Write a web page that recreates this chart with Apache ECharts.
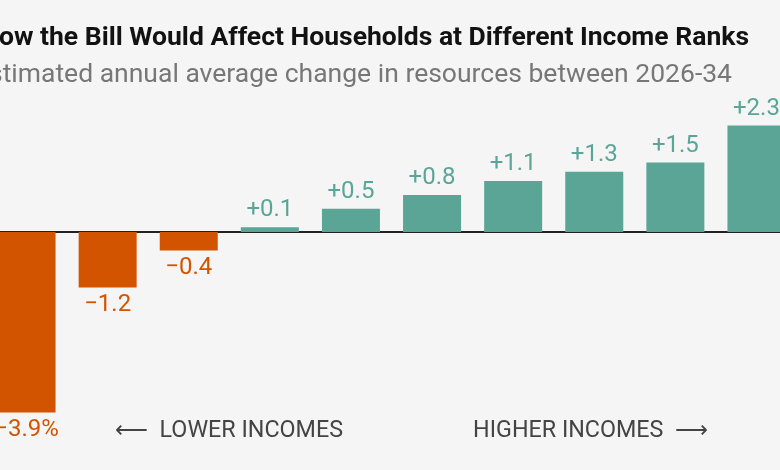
<!DOCTYPE html>
<html><head><meta charset="utf-8">
<script src="https://cdn.jsdelivr.net/npm/echarts@6/dist/echarts.min.js"></script>
<style>html,body{margin:0;padding:0;background:#f5f5f5;overflow:hidden;width:780px;height:470px;}#c{width:811px;height:470px;margin-left:-14px;}</style>
</head><body><div id="c"></div>
<script>
var categories = ['Bottom 10%','10-20%','20-30%','30-40%','40-50%','50-60%','60-70%','70-80%','80-90%','Top 10%'];
var values = [-3.9, -1.2, -0.4, 0.1, 0.5, 0.8, 1.1, 1.3, 1.5, 2.3];
var labels = ['\u22123.9%','\u22121.2','\u22120.4','+0.1','+0.5','+0.8','+1.1','+1.3','+1.5','+2.3'];
var titleText = 'How the Bill Would Affect Households at Different Income Ranks';
var subtitleText = 'Estimated annual average change in resources between 2026-34';
var lowerText = '\u27F5  LOWER INCOMES';
var higherText = 'HIGHER INCOMES  \u27F6';

var NEG = '#d35400', POS = '#5ba597';
var OFF = 14;
var chart = echarts.init(document.getElementById('c'));
chart.setOption({
  backgroundColor: '#f5f5f5',
  animation: false,
  grid: {left: 0, right: 0, top: 93.1, bottom: 52.8, containLabel: false},
  xAxis: {type: 'category', data: categories, axisLabel: {show: false}, axisTick: {show: false},
    axisLine: {show: true, onZero: true, lineStyle: {color: '#222', width: 2}}},
  yAxis: {type: 'value', min: -4, max: 3, show: false, splitLine: {show: false}},
  series: [{
    type: 'bar', barWidth: 58,
    data: values.map(function(v, i){
      return {value: v, itemStyle: {color: v < 0 ? NEG : POS},
        label: {show: true, position: v < 0 ? 'bottom' : 'top', distance: 5,
          formatter: labels[i], color: v < 0 ? NEG : POS,
          fontSize: 24, fontFamily: 'Roboto'}};
    })
  }],
  graphic: [
    {type: 'text', style: {text: titleText, x: 749 + OFF, y: 38, textAlign: 'right', textVerticalAlign: 'middle',
      font: 'bold 26.5px Roboto', fill: '#121212'}},
    {type: 'text', style: {text: subtitleText, x: 732 + OFF, y: 75, textAlign: 'right', textVerticalAlign: 'middle',
      font: '26.5px Roboto', fill: '#777'}},
    {type: 'text', style: {text: lowerText, x: 115 + OFF, y: 431, textAlign: 'left', textVerticalAlign: 'middle',
      font: '23.3px Roboto', fill: '#444'}},
    {type: 'text', style: {text: higherText, x: 708 + OFF, y: 431, textAlign: 'right', textVerticalAlign: 'middle',
      font: '23.3px Roboto', fill: '#444'}}
  ]
});
</script></body></html>
